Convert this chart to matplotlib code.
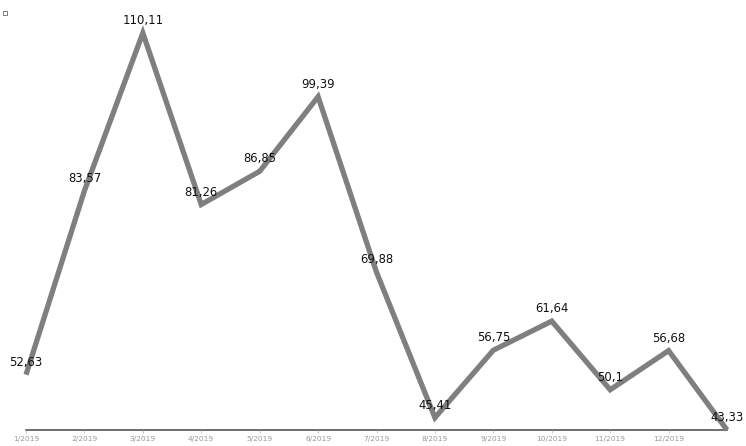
import numpy as np
import matplotlib.pyplot as plt
from matplotlib.patches import Rectangle

# monthly values
months = ["1/2019", "2/2019", "3/2019", "4/2019", "5/2019", "6/2019",
          "7/2019", "8/2019", "9/2019", "10/2019", "11/2019", "12/2019"]
values = [52.63, 83.57, 110.11, 81.26, 86.85, 99.39, 69.88,
          45.41, 56.75, 61.64, 50.1, 56.68, 43.33]
labels = ["52,63", "83,57", "110,11", "81,26", "86,85", "99,39", "69,88",
          "45,41", "56,75", "61,64", "50,1", "56,68", "43,33"]

W, H = 746, 446
fig = plt.figure(figsize=(W / 100, H / 100), dpi=100)
left, right, top, bottom = 26, 727, 33, 430
ax = fig.add_axes([left / W, (H - bottom) / H, (right - left) / W, (bottom - top) / H])

x = np.arange(len(values))
ax.plot(x, values, color="#7f7f7f", lw=3.8, solid_joinstyle="miter",
        solid_capstyle="butt", clip_on=False, zorder=2)

for xi, v, t in zip(x, values, labels):
  ax.annotate(t, (xi, v), xytext=(0, 9), textcoords="offset points",
              ha="center", va="center", fontsize=8.4, color="#111111",
              family="DejaVu Sans", zorder=3)

ax.set_xlim(0, len(values) - 1)
ax.set_ylim(min(values), max(values))
ax.set_xticks(np.arange(len(months)))
ax.set_xticklabels(months, fontsize=5.3, color="#999999")
ax.tick_params(axis="x", length=2.5, width=0.6, color="#bbbbbb", pad=2)
ax.set_yticks([])
for s in ["left", "right", "top"]:
  ax.spines[s].set_visible(False)
ax.spines["bottom"].set_color("#555555")
ax.spines["bottom"].set_linewidth(1.2)
ax.spines["bottom"].set_zorder(1)

# tiny legend square at top left
fig.patches.append(Rectangle((3 / W, (H - 15) / H), 4 / W, 4 / H,
                             transform=fig.transFigure, fill=False,
                             edgecolor="#666666", lw=0.6))

fig.savefig("out.png", dpi=100)
